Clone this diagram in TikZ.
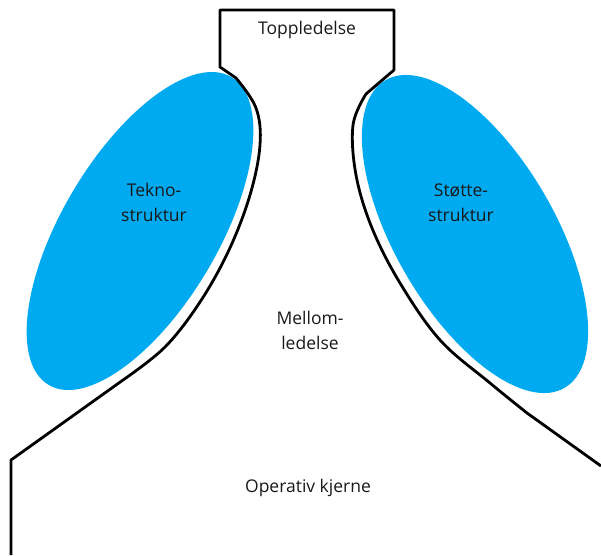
\documentclass[tikz,border=0pt]{standalone}
\usepackage{fontspec}
\setmainfont{Open Sans}
\definecolor{partblue}{RGB}{0,170,240}

\begin{document}
\begin{tikzpicture}[
  x=1pt, y=-1pt,
  blob/.style = {fill=partblue},
  outline/.style = {draw=black, line width=2.8pt, line join=round},
  every node/.style = {align=center, text=black!90, font=\fontsize{17.5}{25}\selectfont}]
  \useasboundingbox (0,0) rectangle (601,555);
  % the two staff parts
  \fill[blob, rotate around={59.3:(140,231)}] (140,231) ellipse [x radius=179, y radius=78];
  \fill[blob, rotate around={-59.8:(475,234)}] (475,234) ellipse [x radius=178, y radius=80];
  % outline of the organisation
  \draw[outline] (11,555) -- (11,460)
    -- plot[smooth, tension=0.6] coordinates {(123,380) (165,347) (200,302) (229,250)
         (250,195) (260,145) (256,108) (236,78)}
    -- (220,67) -- (220,10) -- (394,10) -- (394,70)
    -- plot[smooth, tension=0.6] coordinates {(366,94) (353,125) (356,175) (372,228)
         (400,283) (440,340) (490,383) (527,413)}
    -- (601,466);
  \node (topp) at (307,30) {Toppledelse};
  \node (tekno) at (154,202) {Tekno-\\struktur};
  \node (stotte) at (461,203) {Støtte-\\struktur};
  \node (mellom) at (310,330) {Mellom-\\ledelse};
  \node (kjerne) at (308,488) {Operativ kjerne};
\end{tikzpicture}
\end{document}
